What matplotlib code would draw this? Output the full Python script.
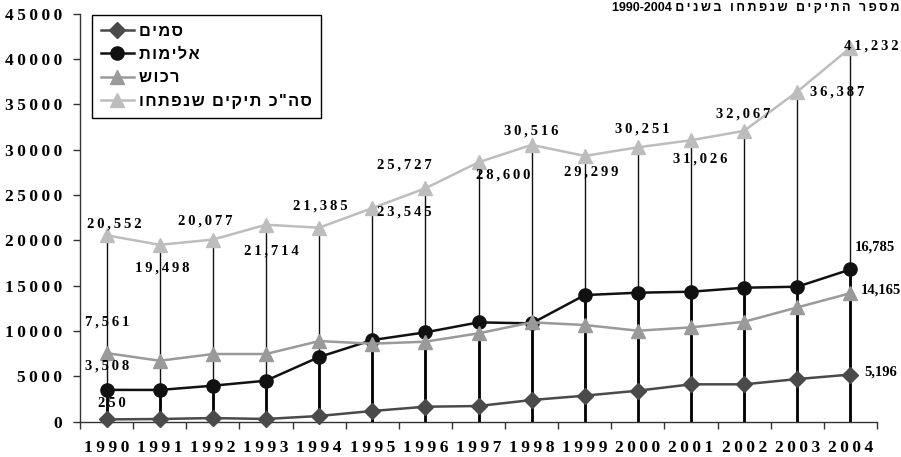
import matplotlib
matplotlib.use("Agg")
import matplotlib.pyplot as plt
from matplotlib.ticker import FixedLocator

plt.rcParams['font.family'] = ['Liberation Serif', 'DejaVu Serif']
plt.rcParams['font.weight'] = 'bold'

# Data
years = [1990, 1991, 1992, 1993, 1994, 1995, 1996, 1997, 1998, 1999, 2000, 2001, 2002, 2003, 2004]
drugs = [250, 300, 400, 300, 630, 1180, 1650, 1730, 2390, 2870, 3420, 4120, 4120, 4700, 5196]
violence = [3508, 3500, 3970, 4520, 7130, 9000, 9850, 10950, 10840, 13960, 14220, 14330, 14770, 14880, 16785]
prop = [7561, 6720, 7460, 7460, 8890, 8600, 8820, 9740, 10950, 10660, 10030, 10400, 11020, 12600, 14165]
total = [20552, 19498, 20077, 21714, 21385, 23545, 25727, 28600, 30516, 29299, 30251, 31026, 32067, 36387, 41232]

series_names = ['סמים', 'אלימות', 'רכוש', 'סה"כ תיקים שנפתחו']
title_he = 'מספר התיקים שנפתחו בשנים'
title_years = '1990-2004'

THIN = '\u2009'
HAIR = '\u200a'
HEB_FONT = ['Liberation Sans', 'DejaVu Sans']


def spaced(s, sep=THIN):
    return sep.join(s)


def heb(s):
    # matplotlib lays glyphs left to right, so flip Hebrew to visual order
    return s[::-1]


def fmt(v):
    return f"{v:,}"


fig = plt.figure(figsize=(9.01, 4.57), dpi=100)
ax = fig.add_axes([80 / 901, 35.3 / 457, 797 / 901, 408.2 / 457])

# drop lines from each year down to the axis
ax.vlines(years, 0, total, colors='#111111', linewidth=1.0, zorder=1)
ax.vlines(years, 0, violence, colors='#000000', linewidth=2.0, zorder=1)

styles = [
    dict(color='#4a4a4a', marker='D', markersize=8),
    dict(color='#111111', marker='o', markersize=9.5),
    dict(color='#9a9a9a', marker='^', markersize=10),
    dict(color='#bdbdbd', marker='^', markersize=10),
]
handles = []
for vals, st, name in zip([drugs, violence, prop, total], styles, series_names):
    h, = ax.plot(years, vals, color=st['color'], marker=st['marker'],
                 markersize=st['markersize'], markerfacecolor=st['color'],
                 markeredgecolor=st['color'], linewidth=1.8, zorder=3,
                 clip_on=False, label=spaced(heb(name), HAIR))
    handles.append(h)

LBL = dict(ha='center', va='center', fontsize=10.5, fontweight='bold', zorder=5,
           textcoords='offset pixels')

# data labels: pixel offsets (dx, dy up) from each marker
total_off = [(8, 11), (3, -23), (-8, 19), (5, -26), (1, 22), (32, -4), (-21, 23),
             (25, -13), (0, 14), (6, -16), (4, 18), (9, -19), (-1, 17), (40, 0), (21, 2)]
for x, v, (dx, dy) in zip(years, total, total_off):
    ax.annotate(spaced(fmt(v)), (x, v), xytext=(dx, dy), **LBL)

ax.annotate(spaced(fmt(prop[0])), (years[0], prop[0]), xytext=(1, 31), **LBL)
ax.annotate(spaced(fmt(violence[0])), (years[0], violence[0]), xytext=(1, 24), **LBL)
ax.annotate(spaced(fmt(drugs[0])), (years[0], drugs[0]), xytext=(5, 16), **LBL)
ax.annotate(fmt(violence[-1]), (years[-1], violence[-1]), xytext=(24, 22), **LBL)
ax.annotate(fmt(prop[-1]), (years[-1], prop[-1]), xytext=(30, 3), **LBL)
ax.annotate(fmt(drugs[-1]), (years[-1], drugs[-1]), xytext=(30, 3), **LBL)

# axes styling
ax.set_xlim(years[0] - 0.5, years[-1] + 0.5)
ax.set_ylim(0, 45000)
for side in ['top', 'right']:
    ax.spines[side].set_visible(False)
for side in ['left', 'bottom']:
    ax.spines[side].set_color('#333333')
    ax.spines[side].set_linewidth(1.0)

yt = list(range(0, 45001, 5000))
ax.set_yticks(yt)
ax.set_yticklabels([spaced(str(t)) for t in yt], fontsize=12.5, fontweight='bold')
ax.tick_params(axis='y', direction='out', length=5, width=1, color='#333333', pad=8)

ax.set_xticks(years)
ax.set_xticklabels([spaced(str(y)) for y in years], fontsize=12.5, fontweight='bold')
ax.xaxis.set_minor_locator(FixedLocator([y - 0.5 for y in years] + [years[-1] + 0.5]))
ax.tick_params(axis='x', which='major', length=0, pad=13)
ax.tick_params(axis='x', which='minor', direction='out', length=5, width=1, color='#333333')

leg = ax.legend(handles=handles, loc='upper left', bbox_to_anchor=(92 / 901, 1 - 15 / 457),
                bbox_transform=fig.transFigure,
                prop={'size': 11.8, 'weight': 'bold', 'family': HEB_FONT},
                frameon=True, fancybox=False, framealpha=1, edgecolor='#000000',
                handlelength=2.0, handletextpad=0.3, labelspacing=0.5, borderpad=0.55,
                borderaxespad=0)
leg.get_frame().set_linewidth(1.0)

# title sits at the very top edge, as in the source
fig.text(899 / 901, 1 - 2 / 457, title_years + ' ' + spaced(heb(title_he)),
         ha='right', va='top', fontsize=9, fontweight='bold', family=HEB_FONT)

fig.savefig('out.png', dpi=100)
